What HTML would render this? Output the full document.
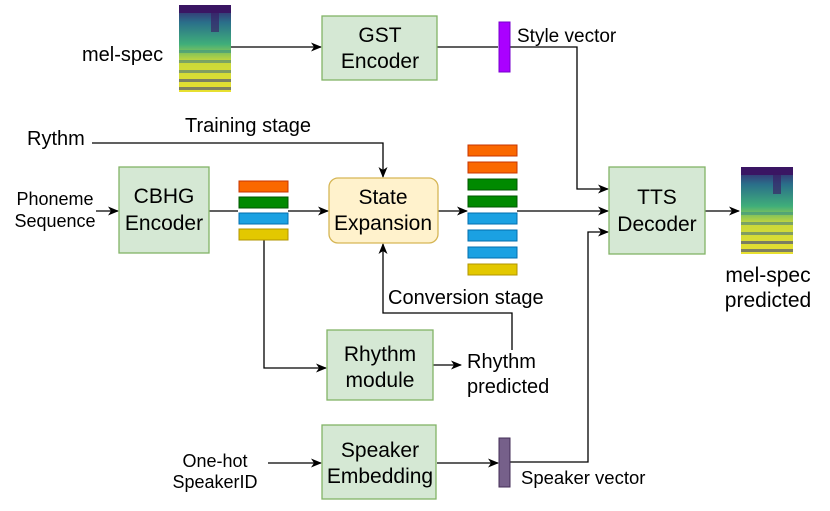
<!DOCTYPE html>
<html><head><meta charset="utf-8"><style>
html,body{margin:0;padding:0;background:#fff;}
svg{display:block;font-family:"Liberation Sans",Arial,sans-serif;}
</style></head><body>
<svg width="830" height="511" viewBox="0 0 830 511" xmlns="http://www.w3.org/2000/svg">
<defs>
<marker id="a" markerWidth="12" markerHeight="12" refX="10" refY="6" orient="auto" markerUnits="userSpaceOnUse">
<path d="M0,1.5 L11,6 L0,10.5 L3,6 Z" fill="#000"/></marker>
<linearGradient id="sg" x1="0" y1="0" x2="0" y2="1">
<stop offset="0" stop-color="#3b1a6b"/><stop offset="0.2" stop-color="#2a6f8a"/>
<stop offset="0.45" stop-color="#3fae7a"/><stop offset="0.65" stop-color="#c9d83a"/>
<stop offset="1" stop-color="#e8e030"/></linearGradient>
<g id="spec">
<rect x="0" y="0" width="52" height="87" fill="url(#sg)"/>
<rect x="0" y="0" width="52" height="8" fill="#3a1563"/>
<rect x="32" y="5" width="8" height="22" fill="#3a1563" opacity="0.6"/>
<rect x="0" y="45" width="52" height="3" fill="#2f8a8a" opacity="0.5"/>
<rect x="0" y="55" width="52" height="3" fill="#2f6f8a" opacity="0.5"/>
<rect x="0" y="65" width="52" height="3" fill="#2f5f8a" opacity="0.5"/>
<rect x="0" y="74" width="52" height="3" fill="#3a3f80" opacity="0.6"/>
<rect x="0" y="82" width="52" height="3" fill="#3a3f80" opacity="0.6"/>
</g>
</defs>
<g stroke="#000" stroke-width="1.3" fill="none">
<line x1="231" y1="47" x2="321" y2="47" marker-end="url(#a)"/>
<line x1="437" y1="47" x2="498" y2="47"/>
<polyline points="510,47 577,47 577,189 608,189" marker-end="url(#a)"/>
<line x1="517" y1="211" x2="608" y2="211" marker-end="url(#a)"/>
<polyline points="510,462 588,462 588,232 608,232" marker-end="url(#a)"/>
<line x1="705" y1="211" x2="739" y2="211" marker-end="url(#a)"/>
<line x1="437" y1="463" x2="498" y2="463" marker-end="url(#a)"/>
<line x1="268" y1="463" x2="321" y2="463" marker-end="url(#a)"/>
<line x1="96" y1="211" x2="118" y2="211" marker-end="url(#a)"/>
<line x1="209" y1="211" x2="238" y2="211"/>
<line x1="288" y1="211" x2="328" y2="211" marker-end="url(#a)"/>
<line x1="438" y1="211" x2="467" y2="211" marker-end="url(#a)"/>
<polyline points="92,143 383,143 383,177" marker-end="url(#a)"/>
<polyline points="264,240 264,368 326,368" marker-end="url(#a)"/>
<line x1="433" y1="365" x2="461" y2="365" marker-end="url(#a)"/>
<polyline points="512,350 512,313 383,313 383,244" marker-end="url(#a)"/>
</g>
<use href="#spec" x="179" y="5"/>
<use href="#spec" x="741" y="167"/>
<g stroke="#82b366" stroke-width="1.3" fill="#d5e8d4">
<rect x="322" y="16" width="115" height="64"/>
<rect x="609" y="167" width="96" height="87"/>
<rect x="119" y="167" width="90" height="86"/>
<rect x="327" y="330" width="106" height="70"/>
<rect x="322" y="425" width="114" height="74"/>
</g>
<rect x="329" y="178" width="109" height="65" rx="9" fill="#fff2cc" stroke="#d6b656" stroke-width="1.3"/>
<rect x="499" y="22" width="11" height="50" fill="#aa00ff" stroke="#7700cc"/>
<rect x="499" y="438" width="11" height="49" fill="#76608a" stroke="#432d57"/>
<g stroke-width="1">
<rect x="239" y="181" width="49" height="11" fill="#fa6800" stroke="#c73500"/>
<rect x="239" y="197" width="49" height="11" fill="#008a00" stroke="#005700"/>
<rect x="239" y="213" width="49" height="11" fill="#1ba1e2" stroke="#006eaf"/>
<rect x="239" y="229" width="49" height="11" fill="#e3c800" stroke="#b09500"/>
<rect x="468" y="145" width="49" height="11" fill="#fa6800" stroke="#c73500"/>
<rect x="468" y="162" width="49" height="11" fill="#fa6800" stroke="#c73500"/>
<rect x="468" y="179" width="49" height="11" fill="#008a00" stroke="#005700"/>
<rect x="468" y="196" width="49" height="11" fill="#008a00" stroke="#005700"/>
<rect x="468" y="213" width="49" height="11" fill="#1ba1e2" stroke="#006eaf"/>
<rect x="468" y="230" width="49" height="11" fill="#1ba1e2" stroke="#006eaf"/>
<rect x="468" y="247" width="49" height="11" fill="#1ba1e2" stroke="#006eaf"/>
<rect x="468" y="264" width="49" height="11" fill="#e3c800" stroke="#b09500"/>
</g>
<g font-size="21" fill="#000" text-anchor="middle">
<text x="380" y="42">GST</text><text x="380" y="68">Encoder</text>
<text x="657" y="204">TTS</text><text x="657" y="231">Decoder</text>
<text x="164" y="203">CBHG</text><text x="164" y="230">Encoder</text>
<text x="383" y="204">State</text><text x="383" y="230">Expansion</text>
<text x="380" y="361">Rhythm</text><text x="380" y="387">module</text>
<text x="380" y="457">Speaker</text><text x="380" y="483">Embedding</text>
</g>
<g font-size="20" fill="#000">
<text x="82" y="61">mel-spec</text>
<text x="517" y="42" font-size="19">Style vector</text>
<text x="27" y="145">Rythm</text>
<text x="185" y="132">Training stage</text>
<text x="388" y="304">Conversion stage</text>
<text x="467" y="368">Rhythm</text><text x="467" y="393">predicted</text>
<text x="521" y="484" font-size="18.5">Speaker vector</text>
<text x="768" y="282" text-anchor="middle" font-size="21">mel-spec</text>
<text x="768" y="307" text-anchor="middle" font-size="21">predicted</text>
</g>
<g font-size="18" fill="#000" text-anchor="middle">
<text x="55" y="205">Phoneme</text><text x="55" y="227">Sequence</text>
<text x="215" y="467">One-hot</text><text x="215" y="488">SpeakerID</text>
</g>
</svg>
</body></html>
